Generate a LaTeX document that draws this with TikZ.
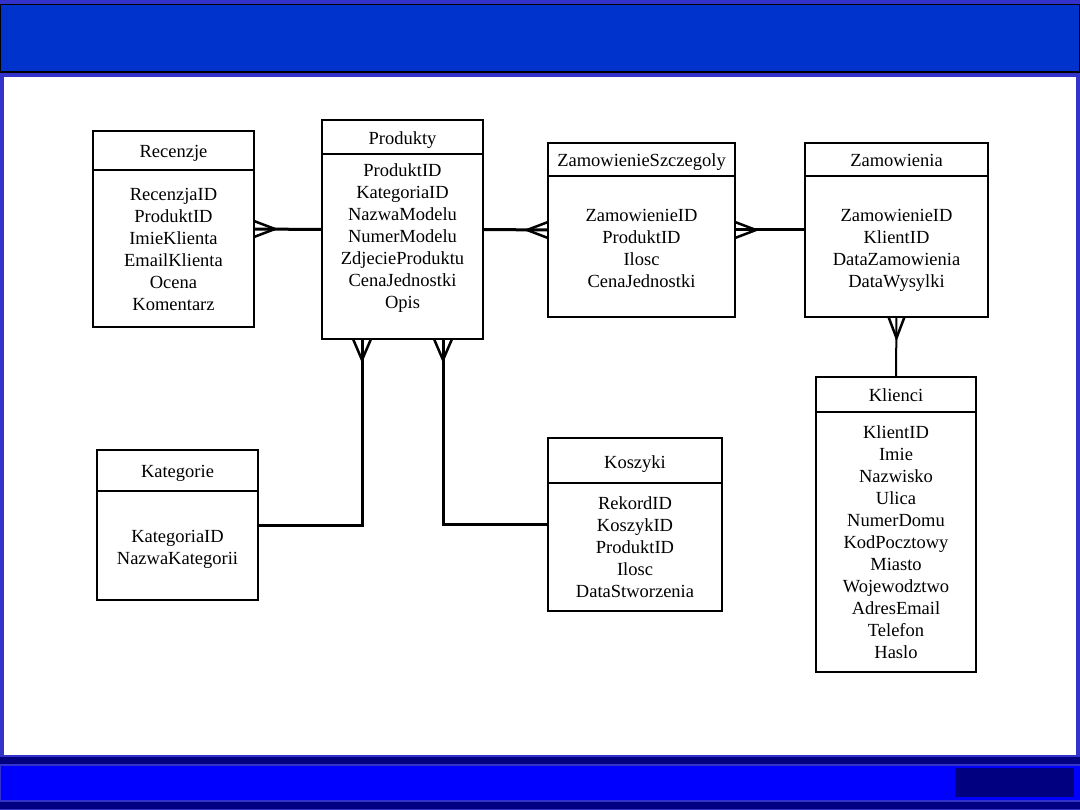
\documentclass[tikz,border=0pt]{standalone}
\usepackage{fontspec}
\setmainfont{Liberation Serif}
\usetikzlibrary{calc}
\definecolor{outerc}{HTML}{3333CC}
\definecolor{topbar}{HTML}{0033CC}
\definecolor{botblue}{HTML}{0000FF}
\definecolor{navy}{HTML}{000080}
\newcommand\entity[9]{%
  \node[ent, minimum width=#4, minimum height=#5, anchor=north west] (#1) at (#2,#3) {};
  \draw[hdr] ($(#1.north west)+(0,#6)$) -- ($(#1.north east)+(0,#6)$);
  \node[ttl] (#1-t) at ($(#1.north)+(0,#6/2+3)$) {#7};
  \foreach \a [count=\i] in {#9} \node[attr] (#1-\i) at ($(#1.north)+(0,#8+22*\i-20)$) {\a};
}
\newcommand\crowfoot[3]{%
  \draw[crow] ($(#1)+(#3)$) -- ($(#1)+(#2)$) -- ($(#1)-(#3)$);
}
\begin{document}
\begin{tikzpicture}[x=1pt,y=-1pt,
  ent/.style={draw=black, line width=2pt, fill=white, outer sep=0pt, inner sep=0pt},
  hdr/.style={draw=black, line width=2pt},
  ttl/.style={font=\fontsize{18.5}{22}\selectfont, inner sep=0pt, text height=13pt, text depth=4pt},
  attr/.style={font=\fontsize{18.5}{22}\selectfont, inner sep=0pt, text height=13pt, text depth=4pt},
  conn/.style={draw=black, line width=3pt},
  crow/.style={draw=black, line width=2.5pt, line join=miter}]
\useasboundingbox (0,0) rectangle (1080,810);
% background frame
\fill[outerc] (0,0) rectangle (1080,810);
\fill[topbar] (0,4) rectangle (1080,72);
\draw[black, line width=1pt] (0.5,4.5) rectangle (1079.5,72);
\draw[black, line width=2pt] (0,72) -- (1080,72);
\fill[white] (4,77) rectangle (1076,755);
\fill[navy] (0,757) rectangle (1080,764);
\fill[botblue] (1,766) rectangle (1080,800);
\fill[navy] (955,768) rectangle (1074,797);
\fill[navy] (0,802) rectangle (1080,809);
% entities
\entity{rec}{93}{131}{161}{196}{39}{Recenzje}{63}{RecenzjaID,ProduktID,ImieKlienta,EmailKlienta,Ocena,Komentarz}
\entity{prod}{322}{120}{161}{219}{34}{Produkty}{50}{ProduktID,KategoriaID,NazwaModelu,NumerModelu,ZdjecieProduktu,CenaJednostki,Opis}
\entity{zs}{548}{143}{187}{174}{33}{ZamowienieSzczegoly}{72}{ZamowienieID,ProduktID,Ilosc,CenaJednostki}
\entity{zam}{805}{143}{183}{174}{33}{Zamowienia}{72}{ZamowienieID,KlientID,DataZamowienia,DataWysylki}
\entity{kli}{816}{377}{160}{295}{35}{Klienci}{55}{KlientID,Imie,Nazwisko,Ulica,NumerDomu,KodPocztowy,Miasto,Wojewodztwo,AdresEmail,Telefon,Haslo}
\entity{kat}{97}{450}{161}{150}{41}{Kategorie}{86}{KategoriaID,NazwaKategorii}
\entity{kos}{548}{438}{174}{173}{45}{Koszyki}{65}{RekordID,KoszykID,ProduktID,Ilosc,DataStworzenia}
% connectors
\draw[conn] (rec.east) -- (prod.west);
\draw[conn] (prod.east) -- (zs.west);
\draw[conn] (zs.east) -- (zam.west);
\draw[conn, line width=2pt] (zam.south) -- (kli.north);
\coordinate (p1) at ($(prod.south west)+(40,0)$);
\coordinate (p2) at ($(prod.south west)+(121,0)$);
\draw[conn] (p1) |- (kat.east);
\draw[conn] (p2) |- (kos.west);
% crow's feet
\crowfoot{rec.east}{21,0}{0,8}
\crowfoot{zs.west}{-21,0}{0,8}
\crowfoot{zs.east}{21,0}{0,8}
\crowfoot{zam.south}{0,21}{8,0}
\crowfoot{p1}{0,21}{9,0}
\crowfoot{p2}{0,21}{9,0}
\end{tikzpicture}
\end{document}
